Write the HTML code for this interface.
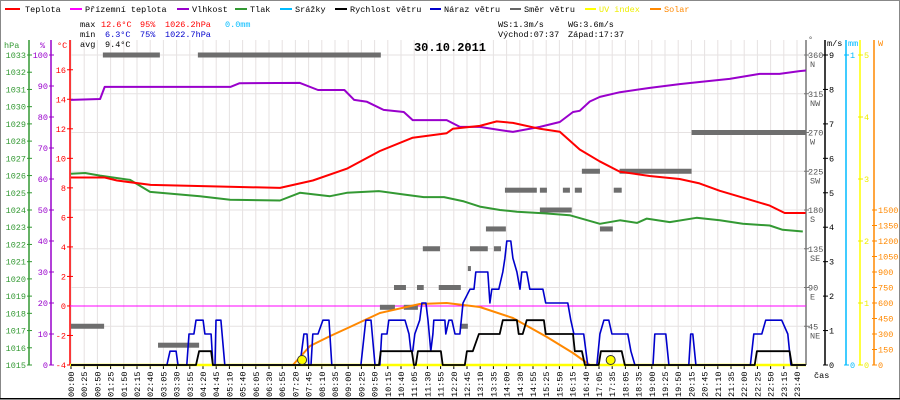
<!DOCTYPE html>
<html><head><meta charset="utf-8"><style>
html,body{margin:0;padding:0;background:#fff}
svg{display:block;font-family:"Liberation Mono",monospace}
</style></head><body>
<svg id="chart" width="900" height="400" viewBox="0 0 900 400" xmlns="http://www.w3.org/2000/svg">
<rect x="0.5" y="0.5" width="899" height="399" fill="#fff" stroke="#888"/>
<g id="grid"></g>
<g id="axes"></g>
<g id="series"></g>
<g id="legend" font-size="8.5">
 <line x1="5" y1="9" x2="20" y2="9" stroke="#f00" stroke-width="2"/><text x="25" y="12">Teplota</text>
 <line x1="70" y1="9" x2="82" y2="9" stroke="#f0f" stroke-width="2"/><text x="85" y="12">Přízemní teplota</text>
 <line x1="177" y1="9" x2="189" y2="9" stroke="#90c" stroke-width="2"/><text x="192" y="12">Vlhkost</text>
 <line x1="235" y1="9" x2="247" y2="9" stroke="#393" stroke-width="2"/><text x="250" y="12">Tlak</text>
 <line x1="280" y1="9" x2="292" y2="9" stroke="#0bf" stroke-width="2"/><text x="295" y="12">Srážky</text>
 <line x1="335" y1="9" x2="347" y2="9" stroke="#000" stroke-width="2"/><text x="350" y="12">Rychlost větru</text>
 <line x1="430" y1="9" x2="441" y2="9" stroke="#00c" stroke-width="2"/><text x="444" y="12">Náraz větru</text>
 <line x1="510" y1="9" x2="521" y2="9" stroke="#666" stroke-width="2"/><text x="524" y="12">Směr větru</text>
 <line x1="585" y1="9" x2="596" y2="9" stroke="#ff0" stroke-width="2"/><text x="599" y="12" fill="#ee0">UV index</text>
 <line x1="650" y1="9" x2="661" y2="9" stroke="#f80" stroke-width="2"/><text x="664" y="12" fill="#f80">Solar</text>
</g>
<g id="stats" font-size="8.5">
 <text x="80" y="27">max</text><text x="101" y="27" fill="#f00">12.6°C</text><text x="140" y="27" fill="#f00">95%</text><text x="165" y="27" fill="#f00">1026.2hPa</text><text x="225" y="27" fill="#0bf">0.0mm</text>
 <text x="80" y="37">min</text><text x="105" y="37" fill="#00c">6.3°C</text><text x="140" y="37" fill="#00c">75%</text><text x="165" y="37" fill="#00c">1022.7hPa</text>
 <text x="80" y="47">avg</text><text x="105" y="47">9.4°C</text>
 <text x="498" y="27">WS:1.3m/s</text><text x="568" y="27">WG:3.6m/s</text>
 <text x="498" y="37">Východ:07:37</text><text x="568" y="37">Západ:17:37</text>
</g>
<text x="450" y="51" text-anchor="middle" font-size="12" font-weight="bold">30.10.2011</text>
</svg>
<script>
const NS="http://www.w3.org/2000/svg";
// ---- data ----
const timeLabels=["00:00","00:25","00:50","01:25","01:50","02:15","02:40","03:05","03:30","03:55","04:20","04:45","05:10","05:40","06:05","06:30","06:55","07:20","07:45","08:10","08:35","09:00","09:25","09:50","10:15","10:40","11:05","11:30","11:55","12:20","12:45","13:10","13:35","14:00","14:30","14:55","15:25","15:50","16:15","16:40","17:05","17:35","18:05","18:35","19:00","19:25","19:50","20:15","20:45","21:10","21:35","22:00","22:25","22:50","23:15","23:40"];
const tempHours=[0,1.1,1.5,2.6,6.82,7.89,9.0,10.08,11.15,12.26,12.46,13.34,13.89,14.42,15.3,15.95,16.6,17.25,17.9,18.88,19.86,20.51,21.17,22.15,22.8,23.29,23.97];
const tempValues=[8.7,8.7,8.5,8.2,8.0,8.5,9.3,10.5,11.4,11.7,12.0,12.2,12.5,12.4,12.0,11.8,10.6,9.8,9.1,8.8,8.6,8.3,7.8,7.2,6.8,6.3,6.3];
const humHours=[0,0.95,1.1,5.2,5.5,7.47,8.06,8.92,9.24,9.66,10.2,10.86,11.15,11.7,12.26,12.69,13.34,13.99,14.42,15.3,15.95,16.38,16.6,16.93,17.26,17.91,18.89,19.86,20.51,21.49,22.47,23.12,23.77,23.98];
const humValues=[85.5,85.8,89.7,89.7,90.9,91,88.7,88.7,85.5,84.9,82.3,81.6,79,79,79,76.8,76.8,75.8,75.2,76.8,78.4,81.6,82,85,86.5,88,89.4,90.6,91.3,92.3,93.9,93.9,94.8,95];
const presHours=[0,0.46,0.95,1.93,2.58,4.21,5.19,6.82,7.47,8.45,9.0,10.04,10.86,11.51,12.17,12.82,13.34,14.0,14.55,15.47,16.27,17.26,17.91,18.47,18.79,19.54,20.41,21.17,21.92,22.8,23.22,23.88];
const presValues=[1026.1,1026.15,1026.0,1025.75,1025.05,1024.8,1024.6,1024.55,1025.0,1024.8,1025.0,1025.1,1024.9,1024.75,1024.75,1024.5,1024.2,1024.0,1023.9,1023.8,1023.7,1023.2,1023.4,1023.25,1023.5,1023.3,1023.55,1023.4,1023.2,1023.1,1022.85,1022.75];
const gustHours=[0,3.13,3.23,3.43,3.49,3.78,3.85,4.01,4.08,4.31,4.37,4.57,4.63,4.70,4.73,4.89,5.02,7.47,7.60,7.70,7.76,7.83,7.89,8.06,8.22,8.42,8.51,9.46,9.62,9.79,9.92,10.08,10.14,10.31,10.37,10.90,11.03,11.09,11.15,11.22,11.38,11.45,11.58,11.65,11.74,11.81,11.84,12.20,12.23,12.33,12.43,12.53,12.69,12.79,13.02,13.15,13.21,13.60,13.67,13.73,13.96,14.09,14.16,14.22,14.35,14.42,14.55,14.65,14.71,14.87,14.97,15.40,15.49,16.21,16.31,16.41,16.73,16.86,17.16,17.26,17.39,17.55,17.65,18.17,18.27,18.40,18.99,19.05,19.41,19.51,20.16,20.22,20.29,20.39,22.17,22.28,22.54,22.67,23.19,23.39,23.49,23.98];
const gustValues=[0,0,0.4,0.4,0,0,0.9,0.9,1.3,1.3,0.9,0.9,0,0,1.3,1.3,0,0,0.9,0.9,0,0,0.9,0.9,1.3,1.3,0,0,1.3,1.3,0,0,0.9,0.9,1.3,1.3,0.9,0.4,0.4,0.9,1.3,1.8,1.8,1.3,0.4,0.9,1.3,1.3,0.9,1.3,1.3,0.9,0.9,1.8,2.2,2.2,2.7,2.7,1.8,2.2,2.2,2.7,3.1,3.6,3.6,3.1,2.7,2.2,2.7,2.7,2.2,2.2,1.8,1.8,1.3,0.9,0.9,0,0,0.9,1.3,1.3,0.9,0.9,0.4,0,0,0.9,0.9,0,0,0.9,0.9,0,0,0.9,0.9,1.3,1.3,0.9,0,0];
const speedHours=[0,4.08,4.18,4.57,4.63,10.05,10.11,11.12,11.19,11.25,11.32,12.07,12.13,12.85,12.92,13.11,13.31,13.99,14.09,14.55,14.61,14.74,14.87,15.43,15.49,16.38,16.44,16.67,16.77,17.22,17.29,17.97,18.07,22.31,22.38,23.45,23.52,23.98];
const speedValues=[0,0,0.4,0.4,0,0,0.4,0.4,0,0,0.4,0.4,0,0,0.4,0.4,0.9,0.9,1.3,1.3,0.9,0.9,1.3,1.3,0.9,0.9,0.4,0.4,0,0,0.4,0.4,0,0,0.4,0.4,0,0];
const dirStart=[0,1.04,2.84,4.14,10.08,10.86,10.54,11.29,12.0,11.48,13.02,13.8,12.69,12.95,13.54,14.16,15.3,16.05,16.44,17.71,15.3,17.26,16.67,17.9,20.25];
const dirEnd=[1.08,2.9,4.18,10.11,10.57,11.32,10.93,11.51,12.72,12.04,13.6,14.03,12.95,13.05,14.19,15.2,15.53,16.28,16.67,17.97,16.34,17.68,17.26,20.25,23.98];
const dirDeg=[45,360,23,360,67,67,90,90,90,135,135,135,45,112,158,203,203,203,203,203,180,158,225,225,270];
const solarHours=[7.24,7.8,8.45,9.1,10.08,11.38,12.26,13.34,14.42,15.53,16.38,16.93];
const solarValues=[0,184,280,368,503,590,600,561,455,271,116,0];
const uvHours=[7.54,17.61];
const uvValues=[0,0];
// ---- scales ----
const X0=71,X1=806.5,Y0=365,YT=55;
const xH=h=>X0+h*(X1-X0)/24;
const yT=t=>Y0-(t+4)*(Y0-YT)/21;
const yH=v=>Y0-v*(Y0-YT)/100;
const yP=p=>Y0-(p-1015)*(Y0-YT)/18;
const yW=v=>Y0-v*(Y0-YT)/9;
const yD=d=>Y0-d*(Y0-YT)/360;
const yS=w=>Y0-w*155/1500;
const yU=u=>Y0-u*(Y0-YT)/5;
function el(tag,attrs,parent,txt){const e=document.createElementNS(NS,tag);for(const k in attrs)e.setAttribute(k,attrs[k]);if(txt!==undefined)e.textContent=txt;parent.appendChild(e);return e;}
const grid=document.getElementById('grid'),axes=document.getElementById('axes'),series=document.getElementById('series');
// grid
for(let i=0;i<=8;i++){const y=YT+i*(Y0-YT)/8;const g=el('line',{x1:70,x2:806,y1:y,y2:y,stroke:'#e6e2e2','stroke-width':1},grid);

}
const step=(797-71)/(timeLabels.length-1);
timeLabels.forEach((t,i)=>{const x=71+i*step;
const g=el('line',{x1:x,x2:x,y1:40,y2:365,stroke:'#e6e2e2','stroke-width':1},grid);


el('line',{x1:x,x2:x,y1:366,y2:369,stroke:'#000'},axes);
const tx=el('text',{x:x+3,y:397,'font-size':8.5,transform:`rotate(-90 ${x+3} 397)`},axes,t);

});
el('line',{x1:0,x2:900,y1:398.5,y2:398.5,stroke:'#000'},axes);
const cas=el('text',{x:814,y:378,'font-size':8.5},axes,'čas');


// zero line
const zl=el('line',{x1:70,x2:806,y1:yT(0),y2:yT(0),stroke:'#f0f','stroke-width':1},series);


// left axes
function vaxis(x,color,name){const a=el('line',{x1:x,x2:x,y1:40,y2:365,stroke:color,'stroke-width':1.5},axes);

}
vaxis(29,'#393','hpa-axis');vaxis(51,'#90c','humidity-axis');vaxis(70,'#f00','temp-axis');
el('text',{x:4,y:48,'font-size':8.5,fill:'#393'},axes,'hPa');
el('text',{x:40,y:48,'font-size':8.5,fill:'#90c'},axes,'%');
el('text',{x:57,y:48,'font-size':8.5,fill:'#f00'},axes,'°C');
for(let p=1015;p<=1033;p++){const y=yP(p);el('line',{x1:27,x2:32,y1:y,y2:y,stroke:'#393'},axes);
const t=el('text',{x:26,y:y+3,'font-size':8.5,fill:'#393','text-anchor':'end'},axes,p);

}
for(let h=0;h<=100;h+=10){const y=yH(h);el('line',{x1:49,x2:54,y1:y,y2:y,stroke:'#90c'},axes);
const t=el('text',{x:48,y:y+3,'font-size':8.5,fill:'#90c','text-anchor':'end'},axes,h);

}
for(let c=-4;c<=16;c+=2){const y=yT(c);el('line',{x1:67,x2:73,y1:y,y2:y,stroke:'#f00'},axes);
const t=el('text',{x:66,y:y+3,'font-size':8.5,fill:'#f00','text-anchor':'end'},axes,c);

}
// right axes
vaxis(806,'#777','direction-axis');vaxis(825,'#000','wind-axis');vaxis(846,'#0bf','rain-axis');vaxis(860,'#ff0','uv-axis');vaxis(874,'#f80','solar-axis');
el('text',{x:808,y:42,'font-size':8.5,fill:'#555'},axes,'°');
el('text',{x:827,y:46,'font-size':8.5},axes,'m/s');
el('text',{x:848,y:46,'font-size':8.5,fill:'#0bf'},axes,'mm');
el('text',{x:878,y:46,'font-size':8.5,fill:'#f80'},axes,'W');
const comp=["","NE","E","SE","S","SW","W","NW","N"];
for(let d=45;d<=360;d+=45){const y=yD(d);el('line',{x1:804,x2:809,y1:y,y2:y,stroke:'#777'},axes);
const t=el('text',{x:808,y:y+3,'font-size':8.5,fill:'#555'},axes,d);


el('text',{x:810,y:y+12,'font-size':8.5,fill:'#555'},axes,comp[d/45]);}
for(let v=0;v<=9;v++){const y=yW(v);el('line',{x1:823,x2:828,y1:y,y2:y,stroke:'#000'},axes);
const t=el('text',{x:829,y:y+3,'font-size':8.5},axes,v);

}
[0,1].forEach(v=>{const y=v?55:365;el('line',{x1:844,x2:849,y1:y,y2:y,stroke:'#0bf'},axes);el('text',{x:850,y:y+3,'font-size':8.5,fill:'#0bf'},axes,v);});
for(let u=0;u<=5;u++){const y=yU(u);el('line',{x1:858,x2:863,y1:y,y2:y,stroke:'#ee0'},axes);el('text',{x:864,y:y+3,'font-size':8.5,fill:'#ee0'},axes,u);}
for(let w=0;w<=1500;w+=150){const y=yS(w);el('line',{x1:872,x2:877,y1:y,y2:y,stroke:'#f80'},axes);
const t=el('text',{x:878,y:y+3,'font-size':8.5,fill:'#f80'},axes,w);

}
// series
function line(hs,vs,ys,color,w,name){const pts=hs.map((h,i)=>xH(h).toFixed(1)+','+ys(vs[i]).toFixed(1)).join(' ');
const p=el('polyline',{points:pts,fill:'none',stroke:color,'stroke-width':w,'stroke-linejoin':'round'},series);

}
const uvl=el('line',{x1:70,x2:806,y1:365,y2:365,stroke:'#ff0','stroke-width':2.5},series);


dirDeg.forEach((d,i)=>{const r=el('rect',{x:xH(dirStart[i]),y:yD(d)-2.5,width:Math.max(2,xH(dirEnd[i])-xH(dirStart[i])),height:5,fill:'#6e6e6e'},series);

});
line(solarHours,solarValues,yS,'#f80',2,'solar-line');
line(presHours,presValues,yP,'#393',2,'pressure-line');
line(humHours,humValues,yH,'#90c',2,'humidity-line');
line(tempHours,tempValues,yT,'#f00',2,'temperature-line');
line(gustHours,gustValues,yW,'#00c',1.6,'wind-gust-line');
line(speedHours,speedValues,yW,'#000',1.8,'wind-speed-line');
uvHours.forEach((h,i)=>{const c=el('circle',{cx:xH(h),cy:yU(uvValues[i])-5,r:4.5,fill:'#ff0',stroke:'#333','stroke-width':1},series);

});
</script>
</body></html>
